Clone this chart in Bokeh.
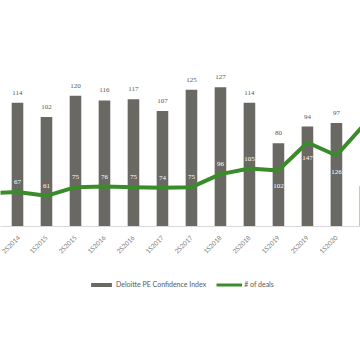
import math
from bokeh.plotting import figure
from bokeh.layouts import column
from bokeh.models import (ColumnDataSource, Range1d, FixedTicker,
                          LabelSet, Legend, LegendItem)
from bokeh.embed import file_html
from bokeh.resources import INLINE

NaN = float("nan")

# ---- data ----
periods = ["1S2014", "2S2014", "1S2015", "2S2015", "1S2016", "2S2016", "1S2017",
           "2S2017", "1S2018", "2S2018", "1S2019", "2S2019", "1S2020", "2S2020"]
confidence_index = [NaN, 114, 102, 120, 116, 117, 107, 125, 127, 114, 80, 94, 97, 44]
num_deals = [65, 67, 61, 75, 76, 75, 74, 75, 96, 105, 102, 147, 126, 178]
series_names = ["Deloitte PE Confidence Index", "# of deals"]

BAR_COLOR = "#6a6863"
LINE_COLOR = "#3a8c2a"
FONT = "Lato"

idx = list(range(len(periods)))
label_off = [8 if i <= 9 else -18 for i in idx]
src = ColumnDataSource(dict(x=idx, ci=confidence_index, deals=num_deals,
                            ci_txt=["" if v != v else str(v) for v in confidence_index],
                            d_txt=[str(v) for v in num_deals],
                            d_off=label_off))

p = figure(width=360, height=266, output_backend="svg", toolbar_location=None,
           x_range=Range1d(0.414, 12.83), y_range=Range1d(10, 200),
           min_border_left=0, min_border_right=0, min_border_top=0,
           min_border_bottom=40)
p.outline_line_color = None
p.xgrid.visible = False
p.ygrid.visible = False
p.yaxis.visible = False
p.extra_y_ranges = {"deals": Range1d(11.5, 376)}

bars = p.vbar(x="x", top="ci", bottom=10, width=0.4, source=src,
              fill_color=BAR_COLOR, line_color=None)
line = p.line(x="x", y="deals", source=src, y_range_name="deals",
              line_color=LINE_COLOR, line_width=4)

ax = p.xaxis[0]
ax.ticker = FixedTicker(ticks=idx)
ax.major_label_overrides = {i: s for i, s in zip(idx, periods)}
ax.major_label_orientation = math.pi / 4
ax.major_label_text_font_size = "6.5px"
ax.major_label_text_color = "#7f7f7f"
ax.major_label_text_font = FONT
ax.major_tick_line_color = None
ax.minor_tick_line_color = None
ax.axis_line_color = "#d9d9d9"
ax.major_label_standoff = 4

p.add_layout(LabelSet(x="x", y="ci", text="ci_txt", source=src,
                      text_font_size="7px", text_color="#595959",
                      text_font=FONT, text_align="center",
                      text_baseline="middle", y_offset=10))
p.add_layout(LabelSet(x="x", y="deals", text="d_txt", source=src,
                      y_range_name="deals", y_offset="d_off",
                      text_font_size="7px", text_color="white",
                      text_font=FONT, text_align="center",
                      text_baseline="bottom"))

# legend strip below the chart
q = figure(width=360, height=94, output_backend="svg", toolbar_location=None,
           x_range=Range1d(0, 1), y_range=Range1d(0, 1),
           min_border_left=0, min_border_right=0, min_border_top=0,
           min_border_bottom=0)
q.outline_line_color = None
q.axis.visible = False
q.grid.visible = False
lb = q.vbar(x=[5], top=[5], width=0.1, fill_color=BAR_COLOR, line_color=None)
ll = q.line(x=[5, 6], y=[5, 5], line_color=LINE_COLOR, line_width=3)
legend = Legend(items=[LegendItem(label=series_names[0], renderers=[lb]),
                       LegendItem(label=series_names[1], renderers=[ll])],
                orientation="horizontal", location=(88, 72),
                label_text_font_size="7px", label_text_color="#595959",
                label_text_font=FONT, glyph_width=26, glyph_height=5,
                label_standoff=2, spacing=10, border_line_color=None,
                background_fill_alpha=0, margin=0, padding=4)
q.add_layout(legend)

layout = column(p, q, spacing=0)
open("out.html", "w").write(file_html(layout, INLINE))
